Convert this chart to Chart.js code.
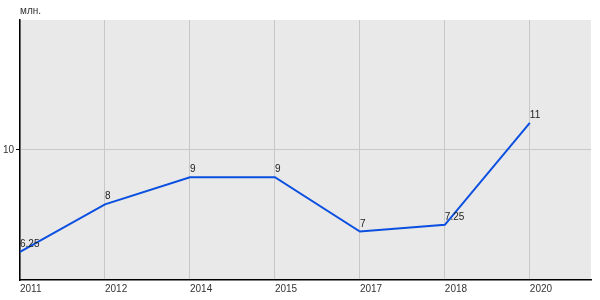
<!DOCTYPE html>
<html>
<head>
<meta charset="utf-8">
<script src="https://cdn.jsdelivr.net/npm/chart.js@4"></script>
<style>
  html, body { margin: 0; padding: 0; background: #fff; }
  #wrap { width: 600px; height: 300px; }
</style>
</head>
<body>
<div id="wrap"><canvas id="c" width="600" height="300"></canvas></div>
<script>
// данные графика
const years = ['2011', '2012', '2014', '2015', '2017', '2018', '2020'];
const values = [6.25, 8, 9, 9, 7, 7.25, 11];
const valueLabels = ['6.25', '8', '9', '9', '7', '7.25', '11'];
const yTicks = [10];
const unitLabel = 'млн.';

const FONT = '"Liberation Sans", Arial, sans-serif';

// фон области графика
const areaBg = {
    id: 'areaBg',
    beforeDraw(chart) {
        const { ctx, chartArea: a } = chart;
        ctx.save();
        ctx.fillStyle = '#e9e9e9';
        ctx.fillRect(a.left, a.top, a.right - a.left, a.bottom - a.top);
        ctx.restore();
    }
};

// подписи значений и единица измерения
const labelsPlugin = {
    id: 'labelsPlugin',
    afterDatasetsDraw(chart) {
        const { ctx } = chart;
        const meta = chart.getDatasetMeta(0);
        ctx.save();
        ctx.font = '10px ' + FONT;
        ctx.fillStyle = '#222';
        ctx.textAlign = 'left';
        ctx.textBaseline = 'alphabetic';
        meta.data.forEach((pt, i) => {
            ctx.fillText(valueLabels[i], pt.x, pt.y - 5);
        });
        ctx.fillStyle = '#333';
        ctx.fillText(unitLabel, chart.chartArea.left, 14);
        ctx.restore();
    }
};

const points = values.map((v, i) => ({ x: i, y: v }));

new Chart(document.getElementById('c'), {
    type: 'line',
    data: {
        datasets: [{
            data: points,
            borderColor: '#0a4fe0',
            borderWidth: 2,
            pointRadius: 0,
            tension: 0,
            fill: false
        }]
    },
    options: {
        responsive: false,
        animation: false,
        layout: { padding: { top: 20, right: 9, left: 0, bottom: 0 } },
        plugins: {
            legend: { display: false },
            tooltip: { enabled: false }
        },
        scales: {
            x: {
                type: 'linear',
                min: 0,
                max: 6.72,
                afterBuildTicks: (s) => { s.ticks = years.map((y, i) => ({ value: i })); },
                afterFit: (s) => { s.height = 20; },
                grid: { color: '#c8c8c8', drawTicks: false },
                border: { color: '#000', width: 1.5 },
                ticks: {
                    align: 'start',
                    padding: 3,
                    maxRotation: 0,
                    autoSkip: false,
                    color: '#333',
                    font: { family: FONT, size: 10 },
                    callback: (v) => years[v]
                }
            },
            y: {
                min: 5.22,
                max: 14.78,
                afterBuildTicks: (s) => { s.ticks = yTicks.map(v => ({ value: v })); },
                afterFit: (s) => { s.width = 20; },
                grid: { color: '#c8c8c8', tickLength: 4, tickColor: '#000' },
                border: { color: '#000', width: 1.5 },
                ticks: {
                    padding: 2,
                    color: '#333',
                    font: { family: FONT, size: 10 }
                }
            }
        }
    },
    plugins: [areaBg, labelsPlugin]
});
</script>
</body>
</html>
